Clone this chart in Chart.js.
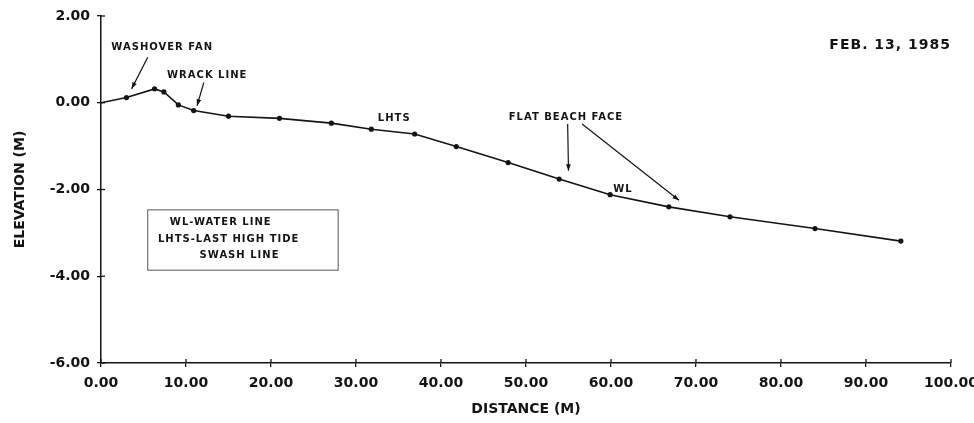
<!DOCTYPE html>
<html lang="en">
<head>
    <meta charset="UTF-8">
    <script src="https://cdn.jsdelivr.net/npm/chart.js"></script>
    <style>
        html, body { margin: 0; padding: 0; background: #fff; }
        #wrap { width: 974px; height: 423px; }
    </style>
</head>
<body>
    <div id="wrap"><canvas id="profileChart" width="974" height="423"></canvas></div>

    <script>
        // beach profile, Feb 13 1985
        const distance = [0, 3.0, 6.3, 7.4, 9.1, 10.9, 15.0, 21.0, 27.1, 31.8, 36.9, 41.8, 47.9, 53.9, 59.9, 66.8, 74.0, 84.0, 94.1];
        const elevation = [0, 0.12, 0.32, 0.25, -0.05, -0.18, -0.31, -0.36, -0.47, -0.61, -0.72, -1.01, -1.38, -1.76, -2.12, -2.40, -2.63, -2.90, -3.19];
        const xTicks = [0, 10, 20, 30, 40, 50, 60, 70, 80, 90, 100];
        const yTicks = [2, 0, -2, -4, -6];

        // text notes, placed in data units
        const labels = [
            { text: 'WASHOVER FAN', x: 7.2, y: 1.27 },
            { text: 'WRACK LINE', x: 12.5, y: 0.64 },
            { text: 'LHTS', x: 34.5, y: -0.35 },
            { text: 'FLAT BEACH FACE', x: 54.7, y: -0.34 },
            { text: 'WL', x: 61.4, y: -1.99 }
        ];
        const arrows = [
            [5.5, 1.05, 3.6, 0.32],
            [12.1, 0.47, 11.3, -0.07],
            [54.9, -0.49, 55.0, -1.57],
            [56.6, -0.49, 68.0, -2.25]
        ];
        const keyBox = [5.5, -2.47, 27.9, -3.86];
        const keyLines = [
            { text: 'WL-WATER LINE', x: 8.1, y: -2.75 },
            { text: 'LHTS-LAST HIGH TIDE', x: 6.7, y: -3.15 },
            { text: 'SWASH LINE', x: 11.6, y: -3.52 }
        ];
        const dateText = 'FEB. 13, 1985';

        const FONT = '"DejaVu Sans", sans-serif';
        const INK = '#141414';

        const notesPlugin = {
            id: 'notes',
            afterDraw(chart) {
                const ctx = chart.ctx;
                const xs = chart.scales.x, ys = chart.scales.y;
                const px = v => xs.getPixelForValue(v);
                const py = v => ys.getPixelForValue(v);
                ctx.save();

                // ticks crossing into the plot
                ctx.strokeStyle = INK;
                ctx.lineWidth = 1.3;
                xTicks.forEach(t => {
                    ctx.beginPath();
                    ctx.moveTo(px(t), ys.bottom);
                    ctx.lineTo(px(t), ys.bottom - 4);
                    ctx.stroke();
                });
                yTicks.forEach(t => {
                    ctx.beginPath();
                    ctx.moveTo(xs.left, py(t));
                    ctx.lineTo(xs.left + 4, py(t));
                    ctx.stroke();
                });

                ctx.fillStyle = INK;
                ctx.font = 'bold 10px ' + FONT;
                ctx.letterSpacing = '1px';
                ctx.textBaseline = 'middle';
                ctx.textAlign = 'center';
                labels.forEach(l => ctx.fillText(l.text, px(l.x), py(l.y)));

                // arrows
                ctx.lineWidth = 1.2;
                arrows.forEach(a => {
                    const x1 = px(a[0]), y1 = py(a[1]), x2 = px(a[2]), y2 = py(a[3]);
                    const ang = Math.atan2(y2 - y1, x2 - x1);
                    ctx.beginPath();
                    ctx.moveTo(x1, y1);
                    ctx.lineTo(x2, y2);
                    ctx.stroke();
                    ctx.beginPath();
                    ctx.moveTo(x2, y2);
                    ctx.lineTo(x2 - 7 * Math.cos(ang - 0.35), y2 - 7 * Math.sin(ang - 0.35));
                    ctx.lineTo(x2 - 7 * Math.cos(ang + 0.35), y2 - 7 * Math.sin(ang + 0.35));
                    ctx.closePath();
                    ctx.fill();
                });

                // key box
                ctx.strokeStyle = '#555';
                ctx.lineWidth = 1;
                const bx = px(keyBox[0]), by = py(keyBox[1]);
                ctx.strokeRect(bx, by, px(keyBox[2]) - bx, py(keyBox[3]) - by);
                ctx.textAlign = 'left';
                keyLines.forEach(l => ctx.fillText(l.text, px(l.x), py(l.y)));

                // date
                ctx.font = 'bold 14px ' + FONT;
                ctx.textAlign = 'right';
                ctx.fillText(dateText, xs.right, py(1.32));
                ctx.restore();
            }
        };

        const ctx = document.getElementById('profileChart').getContext('2d');
        const profileChart = new Chart(ctx, {
            type: 'scatter',
            data: {
                datasets: [{
                    data: distance.map((d, i) => ({ x: d, y: elevation[i] })),
                    showLine: true,
                    borderColor: INK,
                    borderWidth: 1.6,
                    backgroundColor: INK,
                    pointRadius: distance.map((d, i) => i === 0 ? 0 : 2.6),
                    pointBorderWidth: 0,
                    tension: 0
                }]
            },
            options: {
                responsive: false,
                animation: false,
                layout: { padding: { top: 16, right: 23, left: 0, bottom: 0 } },
                plugins: { legend: { display: false }, tooltip: { enabled: false } },
                scales: {
                    x: {
                        type: 'linear',
                        min: 0,
                        max: 100,
                        afterFit: s => { s.height = 60; s.paddingRight = 0; s.paddingLeft = 0; },
                        afterBuildTicks: s => { s.ticks = xTicks.map(v => ({ value: v })); },
                        border: { color: INK, width: 1.5 },
                        grid: { drawOnChartArea: false, color: INK, tickLength: 4, lineWidth: 1.3 },
                        ticks: {
                            color: INK,
                            padding: 8,
                            maxRotation: 0,
                            font: { family: FONT, size: 14, weight: 'bold' },
                            callback: v => v.toFixed(2)
                        },
                        title: {
                            display: true,
                            text: 'DISTANCE (M)',
                            color: INK,
                            padding: { top: 0, bottom: 5 },
                            font: { family: FONT, size: 14, weight: 'bold' }
                        }
                    },
                    y: {
                        min: -6,
                        max: 2,
                        afterFit: s => { s.width = 101; s.paddingTop = 0; s.paddingBottom = 0; },
                        afterBuildTicks: s => { s.ticks = yTicks.map(v => ({ value: v })); },
                        border: { color: INK, width: 1.5 },
                        grid: { drawOnChartArea: false, color: INK, tickLength: 4, lineWidth: 1.3 },
                        ticks: {
                            color: INK,
                            padding: 7,
                            font: { family: FONT, size: 14, weight: 'bold' },
                            callback: v => v.toFixed(2)
                        },
                        title: {
                            display: true,
                            text: 'ELEVATION (M)',
                            color: INK,
                            padding: { top: 12, bottom: 0 },
                            font: { family: FONT, size: 14, weight: 'bold' }
                        }
                    }
                }
            },
            plugins: [notesPlugin]
        });
    </script>
</body>
</html>
